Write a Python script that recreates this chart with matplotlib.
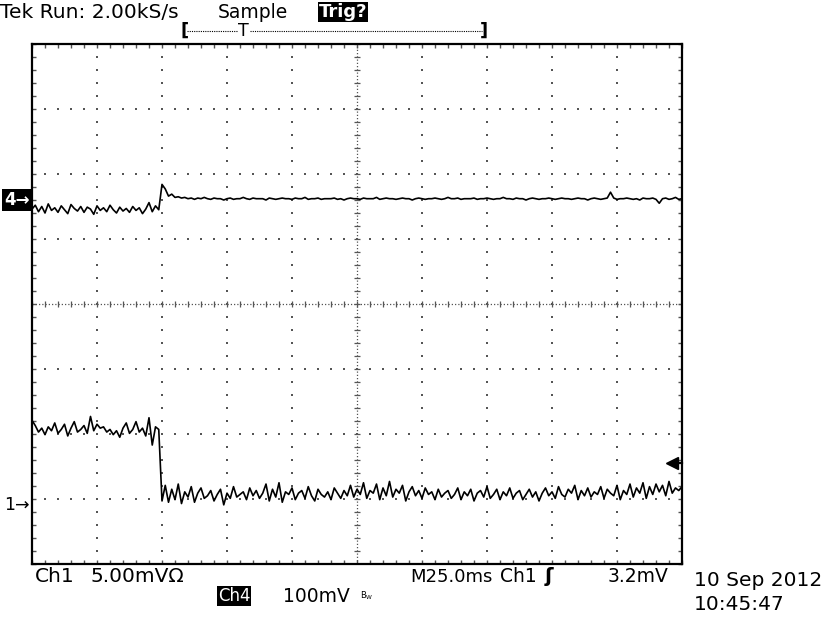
import numpy as np
import matplotlib
matplotlib.use('Agg')
import matplotlib.pyplot as plt
from matplotlib.lines import Line2D

# ---------------- data ----------------
time_ms = np.arange(201) * 1.25          # 10 div x 25 ms/div

ch1_mv = [
    6.5, 6.1, 5.6, 5.9, 5.4, 6.0, 5.7, 6.3, 5.5, 5.8,
    6.2, 5.3, 5.9, 6.4, 5.6, 5.8, 6.1, 5.5, 6.8, 5.7,
    6.2, 5.9, 6.0, 5.6, 5.8, 5.4, 5.7, 5.2, 5.9, 6.3,
    5.5, 5.8, 6.4, 5.6, 5.9, 5.3, 6.7, 4.6, 6.0, 5.8,
    0.3, 1.5, 0.2, 1.2, 0.4, 1.6, 0.1, 1.0, 0.6, 1.4,
    0.2, 0.9, 1.3, 0.5, 0.7, 1.1, 0.3, 0.8, 1.2, 0.0,
    0.9, 0.5, 1.4, 0.6, 0.8, 1.0, 0.4, 1.3, 0.7, 1.1,
    0.5, 0.9, 1.6, 0.3, 1.2, 0.6, 1.7, 0.2, 1.0, 0.8,
    1.3, 0.4, 0.9, 1.1, 0.5, 1.4, 0.7, 0.3, 1.2, 0.8,
    0.6, 1.0, 0.4, 1.3, 0.9, 0.5, 1.1, 0.7, 1.5, 0.6,
    1.2, 0.8, 1.7, 0.5, 1.1, 0.9, 1.6, 0.4, 1.3, 0.7,
    1.8, 0.6, 1.2, 0.9, 1.5, 0.3, 1.0, 1.4, 0.7, 1.1,
    0.5, 1.3, 0.8, 1.0, 0.4, 1.2, 0.6, 0.9, 1.1, 0.5,
    0.8, 1.3, 0.4, 1.0, 0.7, 1.2, 0.3, 0.9, 1.1, 0.6,
    1.4, 0.5, 0.8, 1.2, 0.4, 1.0, 0.7, 1.3, 0.5, 0.9,
    1.1, 0.4, 0.8, 1.2, 0.6, 1.0, 0.3, 0.9, 1.3, 0.7,
    1.0, 0.5, 1.4, 0.8, 0.6, 1.2, 0.9, 1.5, 0.4, 1.1,
    0.7, 1.3, 0.6, 1.0, 0.8, 1.4, 0.5, 1.2, 0.9, 0.7,
    1.5, 0.4, 1.1, 0.8, 1.6, 0.6, 1.3, 0.9, 1.7, 0.5,
    1.4, 0.8, 1.6, 1.0, 1.5, 0.7, 1.8, 0.9, 1.3, 1.1, 1.4,
]

ch4_mv = [
    -14, -8, -18, -10, -20, -6, -16, -12, -19, -9,
    -15, -21, -7, -13, -17, -10, -19, -11, -14, -22,
    -9, -16, -12, -18, -8, -15, -20, -11, -17, -13,
    -19, -10, -16, -12, -21, -14, -4, -18, -9, -15,
    24, 17, 6, 9, 4, 5, 3, 4, 2, 3,
    1, 3, 2, 4, 2, 1, 3, 2, 2, 0,
    2, 3, 1, 2, 2, 4, 2, 1, 3, 2,
    2, 2, 0, 3, 2, 1, 2, 3, 2, 2,
    1, 3, 2, 2, 4, 1, 2, 2, 3, 1,
    2, 2, 2, 3, 1, 2, 0, 2, 3, 2,
    2, 1, 3, 2, 2, 2, 4, 1, 2, 3,
    2, 2, 1, 2, 3, 2, 2, 0, 2, 3,
    2, 1, 2, 2, 3, 2, 1, 2, 4, 2,
    2, 3, 1, 2, 2, 2, 3, 1, 2, 2,
    3, 2, 1, 2, 2, 4, 2, 2, 1, 3,
    2, 2, 0, 2, 3, 2, 1, 2, 2, 3,
    2, 1, 2, 3, 2, 2, 1, 2, 3, 2,
    2, 0, 2, 3, 2, 1, 2, 3, 12, 3,
    1, 2, 2, 3, 2, 1, 2, 0, 3, 2,
    2, 3, 1, -5, 2, 3, 1, 2, 4, 1, 2,
]

ch1_scale_mv = 5.0
ch4_scale_mv = 100.0
ch1_ground_div = -3.09
ch4_ground_div = 1.6
trigger_level_mv = 3.2
time_per_div_ms = 25.0

header_left = "Tek Run: 2.00kS/s"
header_mode = "Sample"
header_trig = "Trig?"
date_text = "10 Sep 2012"
clock_text = "10:45:47"

# ---------------- figure ----------------
W, H = 833, 624
fig = plt.figure(figsize=(W / 100, H / 100), dpi=100)
fig.patch.set_facecolor('white')


def fx(x):
    return x / W


def fy(y):
    return 1 - y / H


rect = [fx(32), fy(564), 650 / W, 520 / H]

# graticule axes in division units
axg = fig.add_axes(rect)
axg.set_xlim(0, 10)
axg.set_ylim(-4, 4)
for s in axg.spines.values():
    s.set_linewidth(1.6)
    s.set_color('black')
minor_x = np.arange(0, 10.001, 0.2)
minor_y = np.arange(-4, 4.001, 0.2)
axg.set_xticks(minor_x)
axg.set_yticks(minor_y)
axg.tick_params(which='both', direction='in', length=3, width=1,
                color='#555555', labelbottom=False, labelleft=False,
                top=True, right=True)

dot_col = '#555555'
for xv in range(1, 10):
    if xv == 5:
        continue
    axg.scatter(np.full_like(minor_y, xv), minor_y, s=1.2, marker='s',
                color=dot_col, linewidths=0, zorder=1)
for yv in range(-3, 4):
    if yv == 0:
        continue
    axg.scatter(minor_x, np.full_like(minor_x, yv), s=1.2, marker='s',
                color=dot_col, linewidths=0, zorder=1)
axg.plot([0, 10], [0, 0], linestyle=(0, (1, 1.6)), color=dot_col, lw=0.9, zorder=1)
axg.plot([5, 5], [-4, 4], linestyle=(0, (1, 1.6)), color=dot_col, lw=0.9, zorder=1)
axg.scatter(minor_x, np.zeros_like(minor_x), marker='|', s=14, color=dot_col,
            linewidths=0.9, zorder=1)
axg.scatter(np.full_like(minor_y, 5), minor_y, marker='_', s=14, color=dot_col,
            linewidths=0.9, zorder=1)

# channel axes
t_max = 10 * time_per_div_ms
ax1 = fig.add_axes(rect)
ax1.set_xlim(0, t_max)
ax1.set_ylim((-4 - ch1_ground_div) * ch1_scale_mv, (4 - ch1_ground_div) * ch1_scale_mv)
ax1.axis('off')
ax1.patch.set_alpha(0)

ax4 = fig.add_axes(rect)
ax4.set_xlim(0, t_max)
ax4.set_ylim((-4 - ch4_ground_div) * ch4_scale_mv, (4 - ch4_ground_div) * ch4_scale_mv)
ax4.axis('off')
ax4.patch.set_alpha(0)

ax1.plot(time_ms, ch1_mv, color='black', lw=1.2, zorder=3)
ax4.plot(time_ms, ch4_mv, color='black', lw=1.2, zorder=3)

# trigger level marker
ax1.plot([t_max * 0.985], [trigger_level_mv], marker='<', ms=9, color='black',
         clip_on=False, zorder=4)
ax1.plot([t_max * 0.985, t_max], [trigger_level_mv] * 2, color='black', lw=1.6,
         clip_on=False, zorder=4)

# ground markers
ax4.text(-0.004, 0, "4\u2192", transform=ax4.get_yaxis_transform(), ha='right',
         va='center', fontsize=12, fontweight='bold', color='white',
         bbox=dict(facecolor='black', edgecolor='none', pad=1.2))
ax1.text(-0.004, 0, "1\u2192", transform=ax1.get_yaxis_transform(), ha='right',
         va='center', fontsize=12.5, color='black')

# header
fs = 14.5
fig.text(fx(0), fy(12), header_left, ha='left', va='center', fontsize=fs)
fig.text(fx(218), fy(12), header_mode, ha='left', va='center', fontsize=fs - 1)
fig.text(fx(319), fy(12), header_trig, ha='left', va='center', fontsize=fs - 1.5,
         fontweight='bold', color='white',
         bbox=dict(facecolor='black', edgecolor='none', pad=0.6))
fig.text(fx(180), fy(31), "[", ha='left', va='center', fontsize=13, fontweight='bold')
fig.text(fx(243), fy(31), "T", ha='center', va='center', fontsize=12.5)
fig.text(fx(488), fy(31), "]", ha='right', va='center', fontsize=13, fontweight='bold')
fig.add_artist(Line2D([fx(187), fx(237)], [fy(31)] * 2, transform=fig.transFigure,
                      linestyle=(0, (1, 1)), color='black', lw=0.8))
fig.add_artist(Line2D([fx(250), fx(482)], [fy(31)] * 2, transform=fig.transFigure,
                      linestyle=(0, (1, 1)), color='black', lw=0.8))

# footer
fb = 14.5
fig.text(fx(35), fy(577), "Ch1", ha='left', va='center', fontsize=fb)
fig.text(fx(90), fy(577), "5.00mV\u03a9", ha='left', va='center', fontsize=fb)
fig.text(fx(410), fy(577), "M25.0ms", ha='left', va='center', fontsize=fb - 1.5)
fig.text(fx(500), fy(577), "Ch1", ha='left', va='center', fontsize=fb - 1)
fig.text(fx(545), fy(577), "\u0283", ha='left', va='center', fontsize=fb,
         fontweight='bold')
fig.text(fx(608), fy(577), "3.2mV", ha='left', va='center', fontsize=fb - 1)
fig.text(fx(218), fy(596), "Ch4", ha='left', va='center', fontsize=fb - 2.5,
         color='white', bbox=dict(facecolor='black', edgecolor='none', pad=0.6))
fig.text(fx(283), fy(596), "100mV", ha='left', va='center', fontsize=fb - 1)
fig.text(fx(360), fy(596), "$\\mathregular{B_W}$", ha='left', va='center', fontsize=6)
fig.text(fx(694), fy(580), date_text, ha='left', va='center', fontsize=fb)
fig.text(fx(694), fy(605), clock_text, ha='left', va='center', fontsize=fb)

fig.savefig('out.png', dpi=100, facecolor='white')
